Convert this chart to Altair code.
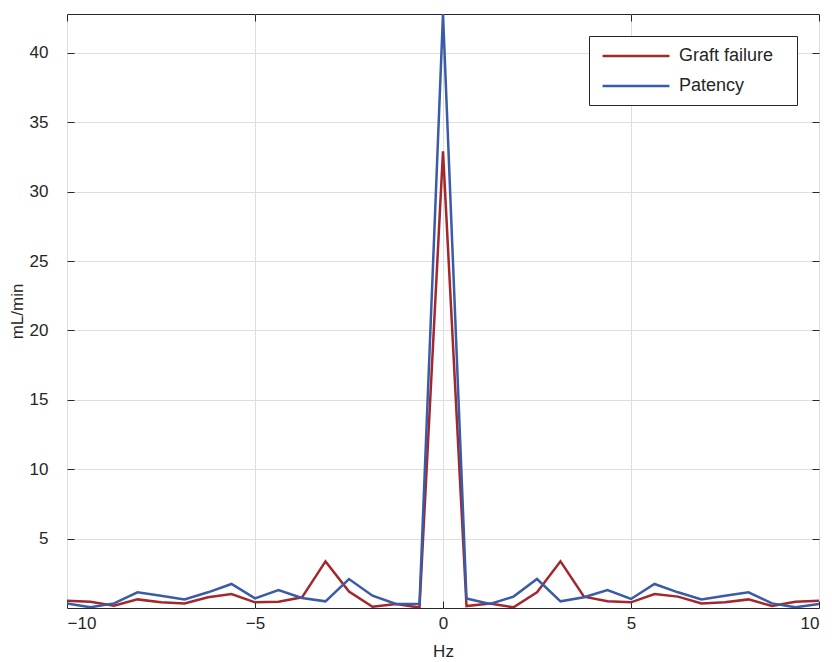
import altair as alt
import pandas as pd

freq = [-10, -9.375, -8.75, -8.125, -7.5, -6.875, -6.25, -5.625, -5, -4.375,
        -3.75, -3.125, -2.5, -1.875, -1.25, -0.625, 0, 0.625, 1.25, 1.875,
        2.5, 3.125, 3.75, 4.375, 5, 5.625, 6.25, 6.875, 7.5, 8.125, 8.75,
        9.375, 10]
graft_failure = [0.53, 0.45, 0.17, 0.62, 0.41, 0.33, 0.77, 1.01, 0.41, 0.45,
                 0.77, 3.36, 1.18, 0.09, 0.29, 0.03, 32.9, 0.14, 0.33, 0.05,
                 1.13, 3.36, 0.82, 0.48, 0.41, 1.01, 0.82, 0.33, 0.41, 0.62,
                 0.14, 0.45, 0.53]
patency = [0.33, 0.05, 0.33, 1.13, 0.89, 0.62, 1.13, 1.73, 0.69, 1.30,
           0.72, 0.48, 2.09, 0.89, 0.29, 0.29, 42.8, 0.69, 0.29, 0.82,
           2.09, 0.48, 0.77, 1.30, 0.65, 1.73, 1.13, 0.62, 0.89, 1.13,
           0.33, 0.05, 0.29]
series_names = ["Graft failure", "Patency"]
series_colors = ["#a2282d", "#3a5ba8"]
x_ticks = [-10, -5, 0, 5, 10]
y_ticks = [5, 10, 15, 20, 25, 30, 35, 40]

rows = []
for f, g, p in zip(freq, graft_failure, patency):
    rows.append({"Hz": f, "value": g, "series": series_names[0]})
    rows.append({"Hz": f, "value": p, "series": series_names[1]})
df = pd.DataFrame(rows)

font = "Liberation Sans"
ink = "#262626"
fs = 17
xscale = alt.Scale(domain=[-10, 10], nice=False, zero=False)
yscale = alt.Scale(domain=[0, 42.8], nice=False, zero=False)

color = alt.Color(
    "series:N",
    scale=alt.Scale(domain=series_names, range=series_colors),
    legend=alt.Legend(
        title="MM", titleOrient="right", titleOpacity=0, titleFontSize=8,
        titlePadding=0,
        orient="none", legendX=522, legendY=22,
        symbolType="M-4,0H4", symbolSize=280, symbolStrokeWidth=2.5,
        symbolOffset=27, labelOffset=33,
        labelFont=font, labelFontSize=18, labelColor=ink,
        strokeColor=ink, fillColor="white", padding=10, rowPadding=11,
    ),
)

lines = alt.Chart(df).mark_line(strokeWidth=2.5, clip=True).encode(
    x=alt.X("Hz:Q", scale=xscale, title="Hz",
            axis=alt.Axis(orient="bottom", values=x_ticks, offset=-7, tickSize=7,
                          domain=False, grid=True, gridColor="#dedede",
                          tickColor=ink, labelColor=ink, labelFont=font,
                          labelFontSize=fs, labelPadding=7, titleFont=font,
                          titleFontSize=fs, titleFontWeight="normal",
                          titleColor=ink, titlePadding=12)),
    y=alt.Y("value:Q", scale=yscale, title="mL/min",
            axis=alt.Axis(orient="left", values=y_ticks, offset=-7, tickSize=7,
                          domain=False, grid=True, gridColor="#dedede",
                          tickColor=ink, labelColor=ink, labelFont=font,
                          labelFontSize=fs, labelPadding=19, titleFont=font,
                          titleFontSize=fs, titleFontWeight="normal",
                          titleColor=ink, titlePadding=3)),
    color=color,
)

ticks_tr = alt.Chart(df).mark_line(opacity=0).encode(
    x=alt.X("Hz:Q", scale=xscale, title=None,
            axis=alt.Axis(orient="top", values=x_ticks, offset=-7, tickSize=7,
                          domain=False, grid=False, labels=False, tickColor=ink)),
    y=alt.Y("value:Q", scale=yscale, title=None,
            axis=alt.Axis(orient="right", values=y_ticks, offset=-7, tickSize=7,
                          domain=False, grid=False, labels=False, tickColor=ink)),
    detail="series:N",
)

chart = alt.layer(lines, ticks_tr).resolve_scale(
    x="independent", y="independent"
).properties(
    width=752, height=594,
    autosize=alt.AutoSizeParams(type="none"),
    padding={"left": 59, "top": 6, "right": 5, "bottom": 52},
).configure_view(stroke=ink, strokeWidth=1)

chart.save("out.html", embed_options={"renderer": "svg", "actions": False})
